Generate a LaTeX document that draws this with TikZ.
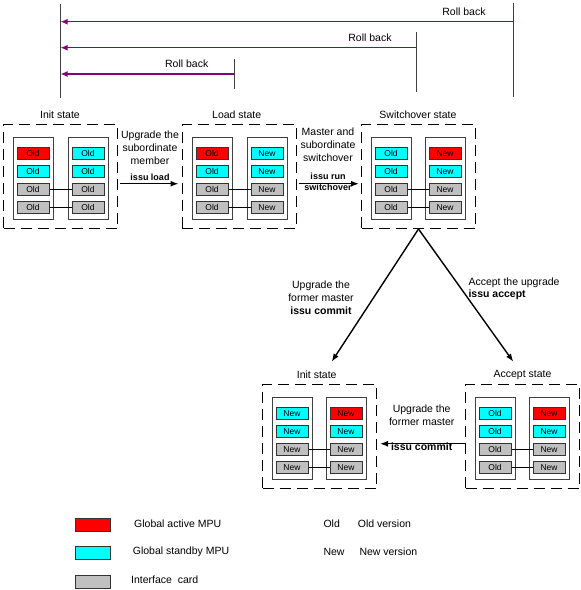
\documentclass[tikz,border=0pt]{standalone}
\usepackage{fontspec}
\setmainfont{Liberation Sans}
\usepackage{xcolor}
\usetikzlibrary{arrows.meta}

\definecolor{mpured}{RGB}{255,0,0}
\definecolor{mpucyan}{RGB}{0,255,255}
\definecolor{cardgray}{RGB}{192,192,192}
\definecolor{rollpurple}{RGB}{128,0,128}

\tikzset{
  statebox/.style={draw, line width=1pt, dash pattern=on 11pt off 6pt, anchor=north west,
    inner sep=0pt, minimum width=114pt, minimum height=104.5pt},
  chassis/.style={draw=black!75, line width=1pt, fill=white, anchor=north west,
    inner sep=0pt, minimum width=40pt, minimum height=82pt},
  card/.style={draw=black!80, line width=1pt, inner sep=0pt, minimum width=32pt,
    minimum height=12pt, font=\fontsize{8.5}{9}\selectfont},
  act/.style={card, fill=mpured},
  sby/.style={card, fill=mpucyan},
  ifc/.style={card, fill=cardgray},
  link/.style={line width=1.7pt},
  flow/.style={line width=1.4pt, -{Latex[length=8pt,width=6pt]}},
  rollar/.style={rollpurple, line width=1.4pt, -{Latex[length=7pt,width=6pt]}},
  vline/.style={draw=black!75, line width=1pt},
  lbl/.style={inner sep=0pt, font=\fontsize{10.5}{13}\selectfont},
  cmd/.style={inner sep=0pt, font=\bfseries\fontsize{9}{10.6}\selectfont},
  legbox/.style={draw=black!80, line width=1pt, minimum width=35pt, minimum height=13pt, inner sep=0pt}
}

\begin{document}
\begin{tikzpicture}[x=1pt,y=1pt,yscale=-1,xscale=1]
  \useasboundingbox (0,0) rectangle (581,590);

  % Roll back lines
  \coordinate (l0top) at (60,4);
  \coordinate (l0bot) at (60,98.3);
  \coordinate (r1top) at (513.3,2.7);
  \coordinate (r1bot) at (513.3,96.7);
  \coordinate (r2top) at (416,32.3);
  \coordinate (r2bot) at (416,92.3);
  \coordinate (r3top) at (234.3,59.3);
  \coordinate (r3bot) at (234.3,89.3);
  \draw[vline] (l0top) -- (l0bot);
  \draw[vline] (r1top) -- (r1bot);
  \draw[vline] (r2top) -- (r2bot);
  \draw[vline] (r3top) -- (r3bot);
  \coordinate (rb1a) at (513.3,21.7);
  \coordinate (rb1b) at (60.5,21.7);
  \coordinate (rb2a) at (416,47.7);
  \coordinate (rb2b) at (60.5,47.7);
  \coordinate (rb3a) at (234.3,74);
  \coordinate (rb3b) at (60.5,74);
  \draw[rollar] (rb1a) -- (rb1b);
  \draw[rollar] (rb2a) -- (rb2b);
  \draw[rollar] (rb3a) -- (rb3b);
  \node[lbl] (rb1lbl) at (464,11.7) {Roll back};
  \node[lbl] (rb2lbl) at (370,37.7) {Roll back};
  \node[lbl] (rb3lbl) at (186.7,64) {Roll back};

  % Init state
  \node[statebox] (init) at (3,123.5) {};
  \node[lbl] (initlbl) at (60,114.5) {Init state};
  \node[chassis] (init1) at (13,137) {};
  \node[chassis] (init2) at (68,137) {};
  \node[act] (i1a) at (33,153.5) {Old};
  \node[sby] (i1b) at (33,171.5) {Old};
  \node[ifc] (i1c) at (33,189.5) {Old};
  \node[ifc] (i1d) at (33,207.5) {Old};
  \node[sby] (i2a) at (88,153.5) {Old};
  \node[sby] (i2b) at (88,171.5) {Old};
  \node[ifc] (i2c) at (88,189.5) {Old};
  \node[ifc] (i2d) at (88,207.5) {Old};
  \draw[link] (i1c) -- (i2c);
  \draw[link] (i1d) -- (i2d);

  % Load state
  \node[statebox] (load) at (181.5,123.5) {};
  \node[lbl] (loadlbl) at (236.7,114.3) {Load state};
  \node[chassis] (load1) at (192,137) {};
  \node[chassis] (load2) at (247,137) {};
  \node[act] (l1a) at (212,153.5) {Old};
  \node[sby] (l1b) at (212,171.5) {Old};
  \node[ifc] (l1c) at (212,189.5) {Old};
  \node[ifc] (l1d) at (212,207.5) {Old};
  \node[sby] (l2a) at (267,153.5) {New};
  \node[sby] (l2b) at (267,171.5) {New};
  \node[ifc] (l2c) at (267,189.5) {New};
  \node[ifc] (l2d) at (267,207.5) {New};
  \draw[link] (l1c) -- (l2c);
  \draw[link] (l1d) -- (l2d);

  % Switchover state
  \node[statebox] (sw) at (361,123.5) {};
  \node[lbl] (swlbl) at (418,115) {Switchover state};
  \node[chassis] (sw1) at (371,137) {};
  \node[chassis] (sw2) at (425,137) {};
  \node[sby] (s1a) at (391,153.5) {Old};
  \node[sby] (s1b) at (391,171.5) {Old};
  \node[ifc] (s1c) at (391,189.5) {Old};
  \node[ifc] (s1d) at (391,207.5) {Old};
  \node[act] (s2a) at (445,153.5) {New};
  \node[sby] (s2b) at (445,171.5) {New};
  \node[ifc] (s2c) at (445,189.5) {New};
  \node[ifc] (s2d) at (445,207.5) {New};
  \draw[link] (s1c) -- (s2c);
  \draw[link] (s1d) -- (s2d);

  % Init state (after commit)
  \node[statebox] (fin) at (262,383.5) {};
  \node[lbl] (finlbl) at (316.7,375) {Init state};
  \node[chassis] (fin1) at (272,397) {};
  \node[chassis] (fin2) at (326,397) {};
  \node[sby] (f1a) at (292,413.5) {New};
  \node[sby] (f1b) at (292,431.5) {New};
  \node[ifc] (f1c) at (292,449.5) {New};
  \node[ifc] (f1d) at (292,467.5) {New};
  \node[act] (f2a) at (346,413.5) {New};
  \node[sby] (f2b) at (346,431.5) {New};
  \node[ifc] (f2c) at (346,449.5) {New};
  \node[ifc] (f2d) at (346,467.5) {New};
  \draw[link] (f1c) -- (f2c);
  \draw[link] (f1d) -- (f2d);

  % Accept state
  \node[statebox] (acc) at (465,383.5) {};
  \node[lbl] (acclbl) at (522.5,375) {Accept state};
  \node[chassis] (acc1) at (475,397) {};
  \node[chassis] (acc2) at (529,397) {};
  \node[sby] (a1a) at (495,413.5) {Old};
  \node[sby] (a1b) at (495,431.5) {Old};
  \node[ifc] (a1c) at (495,449.5) {Old};
  \node[ifc] (a1d) at (495,467.5) {Old};
  \node[act] (a2a) at (549,413.5) {New};
  \node[sby] (a2b) at (549,431.5) {New};
  \node[ifc] (a2c) at (549,449.5) {New};
  \node[ifc] (a2d) at (549,467.5) {New};
  \draw[link] (a1c) -- (a2c);
  \draw[link] (a1d) -- (a2d);

  % Transitions
  \draw[flow] ([xshift=2pt,yshift=7.5pt]init.east) -- ([xshift=-3pt,yshift=7.5pt]load.west);
  \node[lbl, align=center] (upsub) at (150,148) {Upgrade the\\subordinate\\member};
  \node[cmd] (issuload) at (150,177.7) {issu load};

  \draw[flow] ([xshift=2pt,yshift=7.5pt]load.east) -- ([xshift=-2pt,yshift=7.5pt]sw.west);
  \node[lbl, align=center] (msswitch) at (328,144.5) {Master and\\subordinate\\switchover};
  \node[cmd, align=center] (issurun) at (328,182) {issu run\\switchover};

  \coordinate (commitend) at (331.7,361.7);
  \coordinate (acceptend) at (513.3,361.7);
  \draw[flow] (sw.south) -- (commitend);
  \draw[flow] (sw.south) -- (acceptend);
  \node[lbl, align=center] (upformer) at (321,291.3) {Upgrade the\\former master};
  \node[lbl, font=\bfseries\fontsize{10.5}{13}\selectfont] (issucommit) at (321,311) {issu commit};
  \node[lbl, align=left, anchor=west] (accup) at (468.3,288.5)
    {Accept the upgrade\\[-1.4pt]\textbf{issu accept}};

  \draw[flow] ([yshift=7.5pt]acc.west) -- ([xshift=3pt,yshift=7.5pt]fin.east);
  \node[lbl, align=center] (upformerb) at (421.7,415) {Upgrade the\\former master};
  \node[lbl, font=\bfseries\fontsize{10.5}{13}\selectfont] (issucommitb) at (421.7,446.7) {issu commit};

  % Legend
  \node[legbox, fill=mpured] (legact) at (92.5,524.7) {};
  \node[legbox, fill=mpucyan] (legsby) at (92.5,553.3) {};
  \node[legbox, fill=cardgray] (legifc) at (92.5,581.7) {};
  \node[lbl, anchor=west] (legacttxt) at (134,523.3) {Global active MPU};
  \node[lbl, anchor=west] (legsbytxt) at (132.7,551.7) {Global standby MPU};
  \node[lbl, anchor=west] (legifctxt) at (131,580) {Interface \ card};
  \node[lbl, anchor=west] (legold) at (323.3,523.3) {Old};
  \node[lbl, anchor=west] (legoldtxt) at (357.7,523.3) {Old version};
  \node[lbl, anchor=west] (legnew) at (323.3,551.7) {New};
  \node[lbl, anchor=west] (legnewtxt) at (359.3,551.7) {New version};

\end{tikzpicture}
\end{document}
